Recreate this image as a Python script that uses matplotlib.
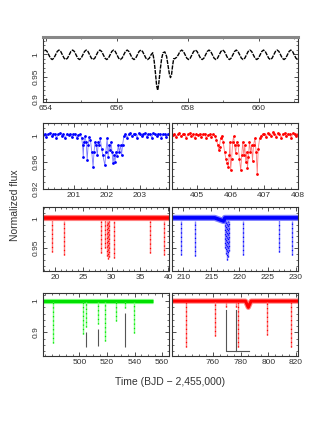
import matplotlib
matplotlib.use('Agg')
import matplotlib.pyplot as plt
from matplotlib.ticker import MultipleLocator, FixedLocator, FuncFormatter

plt.rcParams['font.family'] = ['Liberation Sans', 'DejaVu Sans']

# ---------------- data ----------------
# top panel (black)
top_time = [
    653.890, 653.938,
    653.986, 654.034, 654.082, 654.130, 654.178, 654.226, 654.274, 654.322,
    654.370, 654.418, 654.466, 654.514, 654.562, 654.610, 654.658, 654.706,
    654.754, 654.802, 654.850, 654.898, 654.946, 654.994, 655.042, 655.090,
    655.138, 655.186, 655.234, 655.282, 655.330, 655.378, 655.426, 655.474,
    655.522, 655.570, 655.618, 655.666, 655.714, 655.762, 655.810, 655.858,
    655.906, 655.954, 656.002, 656.050, 656.098, 656.146, 656.194, 656.242,
    656.290, 656.338, 656.386, 656.434, 656.482, 656.530, 656.578, 656.626,
    656.674, 656.722, 656.770, 656.818, 656.866, 656.914, 656.962, 657.010,
    657.050, 657.090, 657.120, 657.150, 657.180, 657.220, 657.260, 657.300,
    657.350, 657.400, 657.440, 657.480, 657.510, 657.540, 657.570, 657.600,
    657.634, 657.682, 657.730, 657.778,
    657.826, 657.874, 657.922, 657.970, 658.018, 658.066, 658.114, 658.162,
    658.210, 658.258, 658.306, 658.354, 658.402, 658.450, 658.498, 658.546,
    658.594, 658.642, 658.690, 658.738, 658.786, 658.834, 658.882, 658.930,
    658.978, 659.026, 659.074, 659.122, 659.170, 659.218, 659.266, 659.314,
    659.362, 659.410, 659.458, 659.506, 659.554, 659.602, 659.650, 659.698,
    659.746, 659.794, 659.842, 659.890, 659.938, 659.986, 660.034, 660.082,
    660.130, 660.178, 660.226, 660.274, 660.322, 660.370, 660.418, 660.466,
    660.514, 660.562, 660.610, 660.658, 660.706, 660.754, 660.802, 660.850,
    660.898, 660.946, 660.994, 661.042, 661.090, 661.138,
]
top_flux = [
    0.9985, 1.006,
    1.009, 1.006, 0.9985, 0.991, 0.988, 0.991, 0.9985, 1.006,
    1.009, 1.006, 0.9985, 0.991, 0.988, 0.991, 0.9985, 1.006,
    1.009, 1.006, 0.9985, 0.991, 0.988, 0.991, 0.9985, 1.006,
    1.009, 1.006, 0.9985, 0.991, 0.988, 0.991, 0.9985, 1.006,
    1.009, 1.006, 0.9985, 0.991, 0.988, 0.991, 0.9985, 1.006,
    1.009, 1.006, 0.9985, 0.991, 0.988, 0.991, 0.9985, 1.006,
    1.009, 1.006, 0.9985, 0.991, 0.988, 0.991, 0.9985, 1.006,
    1.009, 1.006, 0.9985, 0.991, 0.988, 0.991, 0.9985, 1.003,
    0.985, 0.955, 0.930, 0.920, 0.935, 0.965, 0.990, 1.003,
    1.005, 0.995, 0.975, 0.955, 0.948, 0.955, 0.975, 0.990,
    0.990, 0.993, 0.9985, 1.006,
    1.009, 1.006, 0.9985, 0.991, 0.988, 0.991, 0.9985, 1.006,
    1.009, 1.006, 0.9985, 0.991, 0.988, 0.991, 0.9985, 1.006,
    1.009, 1.006, 0.9985, 0.991, 0.988, 0.991, 0.9985, 1.006,
    1.009, 1.006, 0.9985, 0.991, 0.988, 0.991, 0.9985, 1.006,
    1.009, 1.006, 0.9985, 0.991, 0.988, 0.991, 0.9985, 1.006,
    1.009, 1.006, 0.9985, 0.991, 0.988, 0.991, 0.9985, 1.006,
    1.009, 1.006, 0.9985, 0.991, 0.988, 0.991, 0.9985, 1.006,
    1.009, 1.006, 0.9985, 0.991, 0.988, 0.991, 0.9985, 1.006,
    1.009, 1.006, 0.9985, 0.991, 0.988, 0.991,
]

# row 2 left (blue)
b2_time = [
    200.05, 200.10, 200.15, 200.20, 200.26, 200.31, 200.36, 200.41, 200.46, 200.52,
    200.57, 200.62, 200.67, 200.72, 200.78, 200.83, 200.88, 200.93, 200.98, 201.03,
    201.08, 201.13, 201.18,
    201.23, 201.26, 201.28, 201.30, 201.33, 201.37, 201.40, 201.43, 201.46, 201.50,
    201.54, 201.58, 201.61, 201.64, 201.67, 201.71, 201.74, 201.77, 201.80, 201.84,
    201.88, 201.94, 201.97, 202.01, 202.04, 202.07, 202.10, 202.13, 202.16, 202.19,
    202.22, 202.25, 202.28, 202.31, 202.35, 202.38, 202.42, 202.45, 202.48, 202.52,
    202.57, 202.62, 202.67, 202.72, 202.77, 202.82, 202.87, 202.92, 202.97, 203.02,
    203.07, 203.12, 203.17, 203.22, 203.27, 203.32, 203.37, 203.42, 203.47, 203.52,
    203.57, 203.62, 203.67, 203.72, 203.77, 203.82, 203.87, 203.92,
]
b2_flux = [
    1.000, 1.002, 0.997, 1.001, 1.003, 0.998, 1.001, 1.002, 0.996, 1.001,
    1.003, 0.999, 1.001, 0.995, 1.002, 1.000, 1.002, 0.997, 1.001, 1.002,
    0.996, 1.000, 1.001,
    0.996, 0.985, 0.968, 0.990, 0.998, 0.990, 0.963, 0.985, 0.997, 0.993,
    0.975, 0.953, 0.975, 0.990, 0.985, 0.970, 0.990, 0.985, 0.995, 0.980,
    0.970, 0.955, 0.975, 0.995, 0.968, 0.985, 0.978, 0.990, 0.975, 0.958,
    0.970, 0.960, 0.975, 0.969, 0.985, 0.975, 0.985, 0.970, 0.985, 0.998,
    1.001, 0.996, 1.002, 1.003, 0.998, 1.002, 1.001, 0.996, 1.003, 1.001,
    0.998, 1.002, 1.003, 0.997, 1.001, 1.002, 0.996, 1.003, 1.001, 0.998,
    1.002, 1.001, 0.996, 1.002, 1.001, 0.997, 1.002, 1.000,
]

# row 2 right (red)
r2_time = [
    404.28, 404.33, 404.38, 404.43, 404.48, 404.53, 404.58, 404.63, 404.68, 404.73,
    404.78, 404.83, 404.88, 404.93, 404.98, 405.03, 405.08, 405.13, 405.18, 405.23,
    405.28, 405.33, 405.38, 405.43, 405.48, 405.53,
    405.58, 405.62, 405.65, 405.67, 405.70, 405.74, 405.78, 405.82, 405.86, 405.90,
    405.93, 405.96, 405.98, 406.00, 406.03, 406.06, 406.09, 406.12, 406.15, 406.18,
    406.22, 406.26, 406.30, 406.33, 406.36, 406.39, 406.42, 406.45, 406.48, 406.50,
    406.53, 406.56, 406.59, 406.62, 406.65, 406.68, 406.72, 406.76, 406.79, 406.82,
    406.86, 406.90,
    406.95, 407.00, 407.05, 407.10, 407.15, 407.20, 407.25, 407.30, 407.35, 407.40,
    407.45, 407.50, 407.55, 407.60, 407.65, 407.70, 407.75, 407.80, 407.85, 407.90,
    407.95, 408.00,
]
r2_flux = [
    1.000, 1.002, 0.997, 1.001, 1.003, 0.998, 1.001, 1.002, 0.996, 1.001,
    1.003, 0.999, 1.001, 0.995, 1.002, 1.000, 1.002, 0.997, 1.001, 1.002,
    0.996, 1.000, 1.001, 0.997, 1.001, 0.999,
    0.993, 0.985, 0.978, 0.983, 0.995, 0.999, 0.990, 0.975, 0.965, 0.958,
    0.953, 0.970, 0.990, 0.948, 0.965, 0.990, 0.998, 0.985, 0.973, 0.990,
    0.985, 0.965, 0.948, 0.970, 0.990, 0.970, 0.985, 0.960, 0.975, 0.951,
    0.968, 0.990, 0.975, 0.985, 0.962, 0.985, 0.995, 0.975, 0.942, 0.980,
    0.995, 0.999,
    1.001, 1.002, 0.997, 1.003, 1.001, 0.998, 1.004, 1.002, 0.997, 1.003,
    1.001, 0.996, 1.002, 1.003, 0.998, 1.002, 1.001, 0.996, 1.003, 1.001,
    0.998, 1.001,
]

# row 3 left (red): baseline coverage and eclipse dips
r3_base_time = [17.9, 40.1]
r3_base_flux = [1.0015, 1.0015]
r3_dip_time = [19.4, 21.6, 28.1, 28.9, 29.1, 29.3, 29.5, 30.4, 36.8, 39.2]
r3_dip_depth = [0.943, 0.938, 0.942, 0.950, 0.936, 0.932, 0.935, 0.933, 0.941, 0.939]

# row 3 right (blue)
b3_base_time = [208.0, 215.6, 217.2, 217.4, 230.4]
b3_base_flux = [1.0015, 1.0015, 0.996, 1.0015, 1.0015]
b3_dip_time = [209.6, 212.0, 217.4, 217.6, 217.8, 218.0, 218.2, 220.7, 227.0, 229.3]
b3_dip_depth = [0.939, 0.936, 0.950, 0.940, 0.930, 0.935, 0.945, 0.939, 0.943, 0.939]

# row 4 left (green) + grey markers
g4_base_time = [473.5, 553.7]
g4_base_flux = [1.0, 1.0]
g4_dip_time = [481.0, 502.3, 504.5, 513.5, 518.8, 526.5, 533.3, 539.4]
g4_dip_depth = [0.867, 0.894, 0.918, 0.926, 0.872, 0.937, 0.977, 0.897]
g4_grey_time = [504.5, 513.5, 533.3]
g4_grey_top = [0.900, 0.911, 0.961]
g4_grey_bottom = [0.852, 0.856, 0.852]
g4_ticks = [500, 520, 540, 560]

# row 4 right (red) + grey bracket
r4_base_time = [730.4, 783.5, 785.5, 787.5, 821.4]
r4_base_flux = [1.0, 1.0, 0.980, 1.0, 1.0]
r4_dip_time = [740.4, 761.5, 769.5, 776.4, 778.2, 799.3, 816.0]
r4_dip_depth = [0.852, 0.889, 0.982, 0.982, 0.852, 0.890, 0.852]
r4_grey_x = [769.5, 769.5, 786.0]
r4_grey_x2 = [776.4, 776.4]
r4_grey_y = [0.971, 0.841, 0.841]
r4_grey_y2 = [0.971, 0.841]
r4_ticks = [760, 780, 800, 820]

# ---------------- figure ----------------
fig = plt.figure(figsize=(3.27, 4.23), dpi=100)
L1, L2, HW = 0.1315, 0.526, 0.3853
ax_top = fig.add_axes([L1, 0.7589, 0.7798, 0.1537])
ax2l = fig.add_axes([L1, 0.5532, HW, 0.1560])
ax2r = fig.add_axes([L2, 0.5532, HW, 0.1560])
ax3l = fig.add_axes([L1, 0.3593, HW, 0.1513])
ax3r = fig.add_axes([L2, 0.3593, HW, 0.1513])
ax4l = fig.add_axes([L1, 0.1584, HW, 0.1489])
ax4r = fig.add_axes([L2, 0.1584, HW, 0.1489])

TXT = '#333333'
fmt = FuncFormatter(lambda v, p: f'{v:g}')


def style(ax, xlim, ylim, xmaj, xmin, ymaj, ymin, ylab=True):
    ax.set_xlim(*xlim)
    ax.set_ylim(*ylim)
    if isinstance(xmaj, list):
        ax.xaxis.set_major_locator(FixedLocator(xmaj))
    else:
        ax.xaxis.set_major_locator(MultipleLocator(xmaj))
    ax.xaxis.set_minor_locator(MultipleLocator(xmin))
    ax.yaxis.set_major_locator(MultipleLocator(ymaj))
    ax.yaxis.set_minor_locator(MultipleLocator(ymin))
    ax.xaxis.set_major_formatter(fmt)
    ax.yaxis.set_major_formatter(fmt)
    ax.tick_params(which='both', direction='in', top=True, right=True,
                   labelsize=6, colors=TXT, pad=2.5)
    ax.tick_params(which='major', length=3, width=0.6)
    ax.tick_params(which='minor', length=1.6, width=0.5)
    for s in ax.spines.values():
        s.set_linewidth(0.8)
        s.set_color(TXT)
    if ylab:
        ax.tick_params(axis='y', labelrotation=90)
        for t in ax.get_yticklabels():
            t.set_verticalalignment('center')
    else:
        ax.tick_params(axis='y', labelleft=False)


# top
ax_top.plot(top_time, top_flux, color='black', lw=1.0, ls=(0, (3, 0.8)))
style(ax_top, (653.92, 661.1), (0.894, 1.038), 2, 1, 0.05, 0.01)
ax_top.spines['top'].set_color('#888888')
ax_top.spines['top'].set_linewidth(2.2)

# row 2
ax2l.plot(b2_time, b2_flux, color='#7a7aff', lw=0.6)
ax2l.plot(b2_time, b2_flux, ls='none', marker='.', ms=2, color='#0000ff')
style(ax2l, (200.05, 203.9), (0.92, 1.018), 1, 0.2, 0.04, 0.01)
ax2r.plot(r2_time, r2_flux, color='#ff7a7a', lw=0.6)
ax2r.plot(r2_time, r2_flux, ls='none', marker='.', ms=2, color='#ff0000')
style(ax2r, (404.26, 408.0), (0.92, 1.018), 1, 0.2, 0.04, 0.01, ylab=False)


# rows 3 and 4
def lc(ax, bt, bf, dt, dd, col, light, lwb):
    ax.plot(bt, bf, color=light, lw=lwb * 1.7, solid_capstyle='butt')
    ax.plot(bt, bf, color=col, lw=lwb, solid_capstyle='butt')
    ax.vlines(dt, dd, 0.997, color=light, lw=1.0)
    ax.vlines(dt, dd, 0.997, color=col, lw=0.9, linestyles=(0, (1, 2.5)))


lc(ax3l, r3_base_time, r3_base_flux, r3_dip_time, r3_dip_depth, '#ff0000', '#ff8080', 2.6)
style(ax3l, (17.9, 40.1), (0.911, 1.02), 5, 1, 0.05, 0.01)
lc(ax3r, b3_base_time, b3_base_flux, b3_dip_time, b3_dip_depth, '#0000ff', '#8080ff', 2.6)
style(ax3r, (208.0, 230.4), (0.911, 1.02), 5, 1, 0.05, 0.01, ylab=False)

lc(ax4l, g4_base_time, g4_base_flux, g4_dip_time, g4_dip_depth, '#00e000', '#80ff80', 2.2)
ax4l.vlines(g4_grey_time, g4_grey_bottom, g4_grey_top, color='#555555', lw=0.8)
style(ax4l, (473.5, 565), (0.824, 1.026), g4_ticks, 5, 0.1, 0.02)
lc(ax4r, r4_base_time, r4_base_flux, r4_dip_time, r4_dip_depth, '#ff0000', '#ff8080', 2.2)
ax4r.plot(r4_grey_x, r4_grey_y, color='#555555', lw=0.8)
ax4r.plot(r4_grey_x2, r4_grey_y2, color='#555555', lw=0.8)
style(ax4r, (730.4, 821.4), (0.824, 1.026), r4_ticks, 5, 0.1, 0.02, ylab=False)

fig.text(0.52, 0.097, 'Time (BJD \u2212 2,455,000)', ha='center', va='center',
         fontsize=7.5, color=TXT)
fig.text(0.046, 0.515, 'Normalized flux', ha='center', va='center',
         rotation=90, fontsize=7.5, color=TXT)

fig.savefig('out.png', dpi=100)
